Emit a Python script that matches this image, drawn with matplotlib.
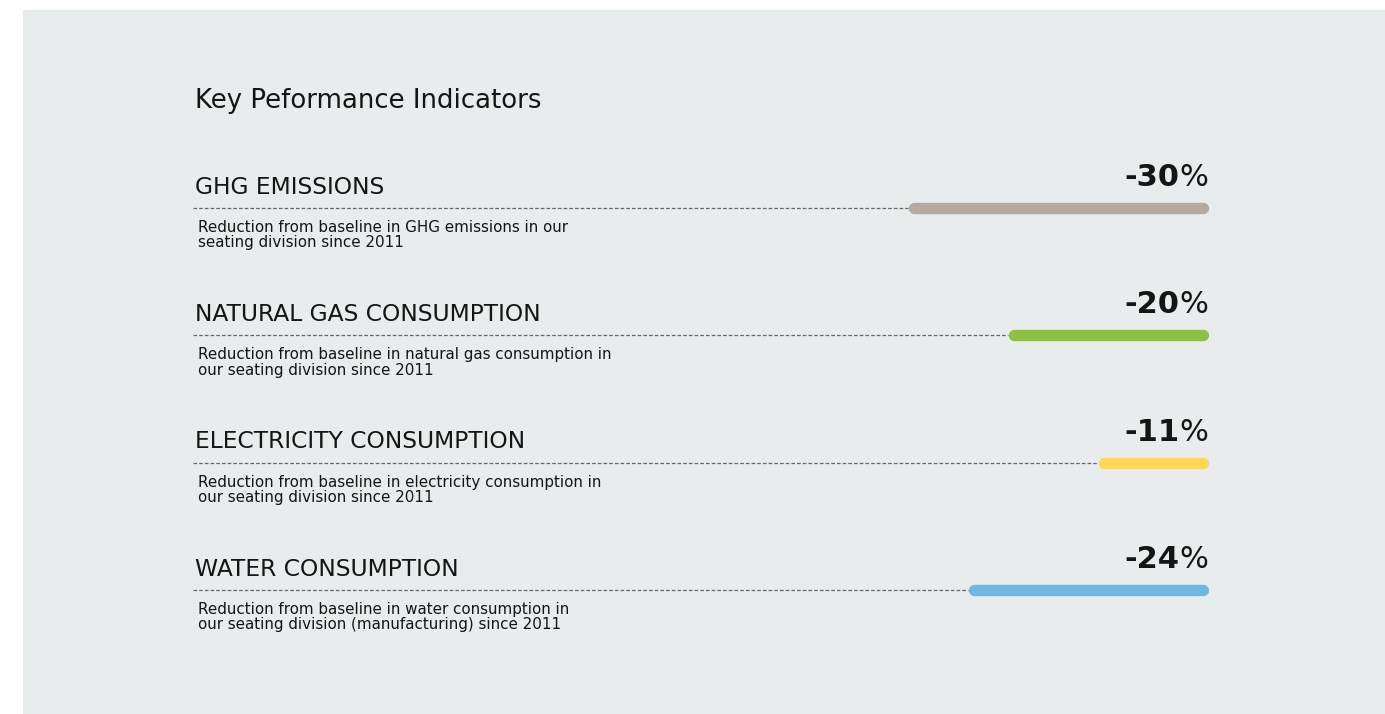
import matplotlib
matplotlib.use("Agg")
import matplotlib.pyplot as plt
from matplotlib.patches import Rectangle

# ============================================================
# DATA
# ============================================================
titles = ["GHG EMISSIONS", "NATURAL GAS CONSUMPTION",
          "ELECTRICITY CONSUMPTION", "WATER CONSUMPTION"]
descriptions = [
    "Reduction from baseline in GHG emissions in our\nseating division since 2011",
    "Reduction from baseline in natural gas consumption in\nour seating division since 2011",
    "Reduction from baseline in electricity consumption in\nour seating division since 2011",
    "Reduction from baseline in water consumption in\nour seating division (manufacturing) since 2011",
]
changes = [-30, -20, -11, -24]
bar_colors = ["#B4AAA0", "#8DC13F", "#FFD757", "#6DB9E2"]

# ============================================================
# STYLE
# ============================================================
plt.rcParams["font.family"] = ["DejaVu Sans"]
plt.rcParams["lines.scale_dashes"] = False
TEXT = "#151515"
PANEL = "#E8ECED"

W, H = 1385, 714
fig = plt.figure(figsize=(W / 100, H / 100), dpi=100)
fig.patch.set_facecolor("white")
fig.patches.append(Rectangle((23 / W, 0), 1, (H - 10) / H,
                             transform=fig.transFigure, facecolor=PANEL,
                             edgecolor="none", zorder=-5))

# axes spans the track area horizontally, full figure vertically
ax = fig.add_axes([193 / W, 0, (1208 - 193) / W, 1])
ax.set_facecolor("none")
ax.set_xlim(-101.5, 0)
ax.set_ylim(3.975, -1.634)
ax.axis("off")

fig.text(195 / W, 1 - 108 / H, "Key Peformance Indicators", fontsize=18.7,
         color=TEXT, ha="left", va="baseline")

for i, (t, d, v, c) in enumerate(zip(titles, descriptions, changes, bar_colors)):
    # dashed track up to bar start
    ax.plot([-101.5, v], [i, i], color="#666666", lw=0.9,
            dashes=(2.6, 1.5), solid_capstyle="butt", zorder=2, clip_on=False)
    # rounded bar
    ax.plot([v + 0.55, -0.55], [i, i], color=c, lw=8.2,
            solid_capstyle="round", zorder=3, clip_on=False)

    ax.annotate(t, xy=(0, i), xycoords=("axes fraction", "data"),
                xytext=(1.5, 10.2), textcoords="offset points",
                fontsize=16.8, color=TEXT, ha="left", va="baseline")
    # multi-line baseline alignment uses the last line here
    ax.annotate(d, xy=(0, i), xycoords=("axes fraction", "data"),
                xytext=(3.5, -28.3), textcoords="offset points",
                fontsize=10.9, color=TEXT, ha="left", va="baseline",
                linespacing=1.02)

    pct = ax.annotate("%", xy=(0, i), xycoords="data",
                      xytext=(0, 15.8), textcoords="offset points",
                      fontsize=22, color=TEXT, ha="right", va="baseline")
    ax.annotate(f"{v}", xy=(0, 0), xycoords=pct,
                fontsize=22, fontweight="bold", color=TEXT,
                ha="right", va="bottom")

fig.savefig("out.png", dpi=100, facecolor=fig.get_facecolor())
